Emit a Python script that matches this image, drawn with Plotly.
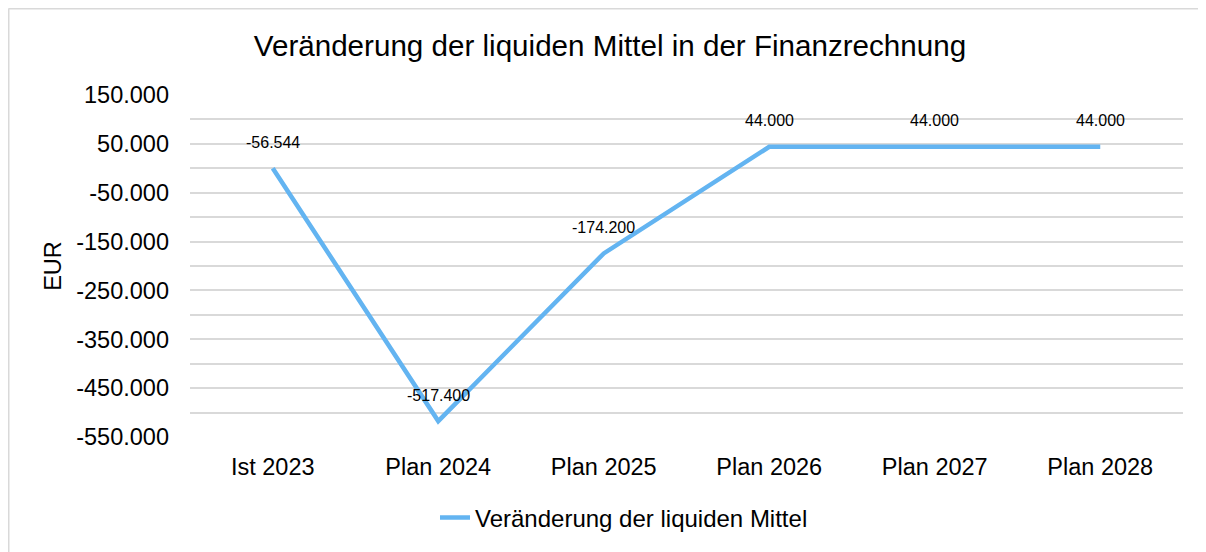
import plotly.graph_objects as go

categories = ["Ist 2023", "Plan 2024", "Plan 2025", "Plan 2026", "Plan 2027", "Plan 2028"]
values = [0, -517400, -174200, 44000, 44000, 44000]
value_labels = ["-56.544", "-517.400", "-174.200", "44.000", "44.000", "44.000"]
series_name = "Veränderung der liquiden Mittel"
title_text = "Veränderung der liquiden Mittel in der Finanzrechnung"

grid_vals = list(range(150000, -550001, -50000))
def fmt(v):
    s = f"{abs(v):,}".replace(",", ".")
    return ("-" if v < 0 else "") + s
grid_text = [fmt(v) if (150000 - v) % 100000 == 0 else "" for v in grid_vals]

FONT = "Liberation Sans, Arial, sans-serif"
OFF = 8  # page body margin
W, H = 1206 - OFF, 552 - OFF
L, R, T, B = 190 - OFF, 1206 - 1183, 95 - OFF, 552 - 437
pw, ph = W - L - R, H - T - B

def px(x):  # page x -> paper
    return (x - OFF - L) / pw
def py(y):  # page y -> paper
    return (H - B - (y - OFF)) / ph

fig = go.Figure()
fig.add_trace(go.Scatter(
    x=categories, y=values, mode="lines", name=series_name,
    line=dict(color="#63b4f1", width=4.5),
))
for c, v, t in zip(categories, values, value_labels):
    fig.add_annotation(x=c, y=v, text=t, showarrow=False, yshift=26,
                       font=dict(family=FONT, size=16, color="#000000"))

# outer frame (left and top edges visible)
fig.add_shape(type="line", xref="paper", yref="paper",
              x0=px(8.5), x1=px(8.5), y0=py(560), y1=py(8.5),
              line=dict(color="#d9d9d9", width=2), layer="below")
fig.add_shape(type="line", xref="paper", yref="paper",
              x0=px(8.5), x1=px(1210), y0=py(8.5), y1=py(8.5),
              line=dict(color="#d9d9d9", width=2), layer="below")

fig.update_layout(
    width=W, height=H,
    margin=dict(l=L, r=R, t=T, b=B),
    paper_bgcolor="white", plot_bgcolor="white",
    font=dict(family=FONT, color="#000000"),
    title=dict(text=title_text, x=(610 - OFF) / W, xanchor="center", y=1 - (46 - OFF) / H, yanchor="middle",
               font=dict(family=FONT, size=29.6, color="#000000")),
    showlegend=True,
    legend=dict(orientation="h", x=px(624), xanchor="center", y=py(518), yanchor="middle",
                font=dict(family=FONT, size=24, color="#000000")),
    xaxis=dict(showgrid=False, showline=False, ticks="", zeroline=False,
               tickfont=dict(family=FONT, size=23.5), ticklabelstandoff=13, range=[-0.5, 5.5]),
    yaxis=dict(range=[-550000, 150000], tickvals=grid_vals, ticktext=grid_text,
               showgrid=True, gridcolor="#d9d9d9", gridwidth=1.5, zeroline=False, showline=False,
               ticks="", tickfont=dict(family=FONT, size=23.5), ticklabelstandoff=20,
               title=dict(text="EUR", font=dict(family=FONT, size=23.5), standoff=7)),
)

fig.write_html("out.html")
